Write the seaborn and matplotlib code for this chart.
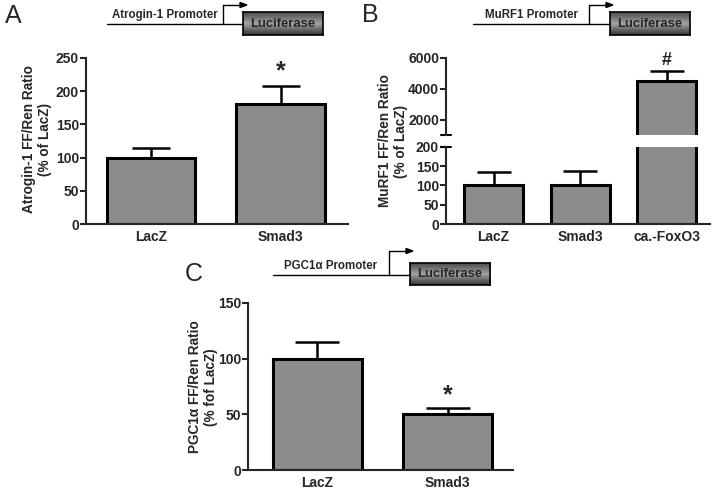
import numpy as np
import pandas as pd
import matplotlib
matplotlib.use("Agg")
import matplotlib.pyplot as plt
import seaborn as sns
from matplotlib.lines import Line2D

# data
groups_a = ["LacZ", "Smad3"]
ratio_a = [100, 180]
sem_a = [15, 28]

groups_b = ["LacZ", "Smad3", "ca.-FoxO3"]
ratio_b = [100, 101, 4500]
sem_b = [36, 37, 650]

groups_c = ["LacZ", "Smad3"]
ratio_c = [100, 50]
sem_c = [15, 5.5]

W, H = 714, 490
dpi = 100
bar_color = "#8c8c8c"

sns.set_style("ticks")
plt.rcParams["font.family"] = ["Liberation Sans", "DejaVu Sans"]
plt.rcParams["font.weight"] = "bold"

fig = plt.figure(figsize=(W / dpi, H / dpi), dpi=dpi)


def px_axes(x0, y0, x1, y1, **kw):
    return fig.add_axes([x0 / W, 1 - y1 / H, (x1 - x0) / W, (y1 - y0) / H], **kw)


def fx(x):
    return x / W


def fy(y):
    return 1 - y / H


def style_axis(ax, ticks, ylim, xlim, bottom=True):
    ax.set_ylim(*ylim)
    ax.set_xlim(*xlim)
    ax.set_yticks(ticks)
    ax.tick_params(axis="y", direction="out", length=4, width=1.5, labelsize=10, pad=1)
    ax.tick_params(axis="x", length=0, labelsize=10, pad=4)
    for lab in ax.get_yticklabels() + ax.get_xticklabels():
        lab.set_fontweight("bold")
    ax.spines["left"].set_linewidth(1.5)
    ax.spines["bottom"].set_linewidth(1.5)
    sns.despine(ax=ax, bottom=not bottom)
    ax.set_xlabel("")
    ax.set_ylabel("")


def bars(ax, groups, vals, errs, capsize):
    df = pd.DataFrame({"group": groups, "ratio": vals})
    sns.barplot(data=df, x="group", y="ratio", color=bar_color, edgecolor="black",
                linewidth=2.2, width=0.68, errorbar=None, saturation=1, ax=ax, zorder=2)
    ax.errorbar(np.arange(len(groups)), vals, yerr=[np.zeros(len(errs)), errs],
                fmt="none", ecolor="black", elinewidth=1.8, capsize=capsize,
                capthick=1.8, zorder=1)


def promoter(label, x_start, x_turn, y_line, y_arrow, box):
    bx0, by0, bx1, by1 = box
    fig.add_artist(Line2D([fx(x_start), fx(bx0)], [fy(y_line), fy(y_line)],
                          color="black", lw=1))
    fig.add_artist(Line2D([fx(x_turn), fx(x_turn)], [fy(y_line), fy(y_arrow)],
                          color="black", lw=1))
    fig.add_artist(Line2D([fx(x_turn), fx(x_turn + 18)], [fy(y_arrow), fy(y_arrow)],
                          color="black", lw=1))
    fig.patches.append(plt.Polygon(
        [[fx(x_turn + 24), fy(y_arrow)], [fx(x_turn + 17), fy(y_arrow - 2.5)],
         [fx(x_turn + 17), fy(y_arrow + 2.5)]],
        closed=True, color="black", transform=fig.transFigure, figure=fig))
    fig.text(fx((x_start + x_turn) / 2), fy(y_line - 9), label, ha="center",
             va="center", fontsize=8.3, fontweight="bold")
    bax = px_axes(bx0, by0, bx1, by1)
    grad = np.concatenate([np.linspace(0.3, 0.62, 10), np.linspace(0.62, 0.22, 10)])
    bax.imshow(grad[:, None], aspect="auto", cmap="gray", vmin=0, vmax=1,
               extent=[0, 1, 0, 1])
    bax.set_xticks([])
    bax.set_yticks([])
    for s in bax.spines.values():
        s.set_linewidth(1.2)
        s.set_color("black")
    bax.text(0.5, 0.48, "Luciferase", ha="center", va="center", fontsize=9.4,
             fontweight="bold", transform=bax.transAxes)


# Panel A
ax_a = px_axes(86, 58, 348, 224)
bars(ax_a, groups_a, ratio_a, sem_a, 14)
style_axis(ax_a, [0, 50, 100, 150, 200, 250], (0, 250), (-0.5, 1.52))
ax_a.text(1, ratio_a[1] + sem_a[1] + 4, "*", ha="center", va="bottom",
          fontsize=18, fontweight="bold")
fig.text(fx(37), fy(139), "Atrogin-1 FF/Ren Ratio\n(% of LacZ)", rotation=90,
         ha="center", va="center", multialignment="center", fontsize=9.8,
         fontweight="bold", linespacing=1.15)
fig.text(fx(5), fy(16), "A", fontsize=18, fontweight="normal", va="center",
         family=["Liberation Sans"])
promoter("Atrogin-1 Promoter", 107, 223, 24, 5, (243, 12, 323, 35))

# Panel B (broken axis)
ax_bt = px_axes(446, 58, 710, 135)
ax_bb = px_axes(446, 147, 710, 224)
bars(ax_bt, groups_b, ratio_b, sem_b, 12)
bars(ax_bb, groups_b, ratio_b, sem_b, 12)
style_axis(ax_bt, [2000, 4000, 6000], (1000, 6000), (-0.55, 2.5), bottom=False)
ax_bt.set_xticks([])
style_axis(ax_bb, [0, 50, 100, 150, 200], (0, 200), (-0.55, 2.5))
for a, yy in ((ax_bt, 0), (ax_bb, 1)):
    a.plot([-0.018, 0.018], [yy, yy], transform=a.transAxes, color="black",
           lw=1.5, clip_on=False)
ax_bt.text(2, ratio_b[2] + sem_b[2] + 150, "#", ha="center", va="bottom",
           fontsize=13, fontweight="bold")
fig.text(fx(393), fy(141), "MuRF1 FF/Ren Ratio\n(% of LacZ)", rotation=90,
         ha="center", va="center", multialignment="center", fontsize=9.8,
         fontweight="bold", linespacing=1.15)
fig.text(fx(362), fy(15), "B", fontsize=18, fontweight="normal", va="center",
         family=["Liberation Sans"])
promoter("MuRF1 Promoter", 473, 589, 24, 5, (610, 12, 690, 35))

# Panel C
ax_c = px_axes(248, 303, 513, 470)
bars(ax_c, groups_c, ratio_c, sem_c, 16)
style_axis(ax_c, [0, 50, 100, 150], (0, 150), (-0.53, 1.5))
ax_c.text(1, ratio_c[1] + sem_c[1] + 1, "*", ha="center", va="bottom",
          fontsize=18, fontweight="bold")
fig.text(fx(203), fy(387), "PGC1\u03b1 FF/Ren Ratio\n(% fof LacZ)", rotation=90,
         ha="center", va="center", multialignment="center", fontsize=9.8,
         fontweight="bold", linespacing=1.15)
fig.text(fx(185), fy(274), "C", fontsize=18, fontweight="normal", va="center",
         family=["Liberation Sans"])
promoter("PGC1\u03b1 Promoter", 273, 389, 275, 251, (410, 263, 490, 285))

fig.savefig("out.png", dpi=dpi)
